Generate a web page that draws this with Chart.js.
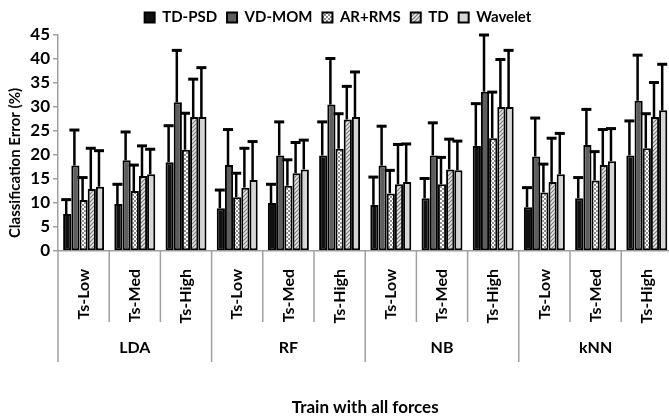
<!DOCTYPE html>
<html>
<head>
<meta charset="utf-8">
<script src="https://cdn.jsdelivr.net/npm/chart.js@4"></script>
<style>
  html, body { margin: 0; padding: 0; background: #fff; overflow: hidden; }
  #wrap { width: 676px; height: 419px; position: relative; }
</style>
</head>
<body>
<div id="wrap"><canvas id="chart"></canvas></div>
<script>
const categories = ['Ts-Low', 'Ts-Med', 'Ts-High', 'Ts-Low', 'Ts-Med', 'Ts-High',
                    'Ts-Low', 'Ts-Med', 'Ts-High', 'Ts-Low', 'Ts-Med', 'Ts-High'];
const groups = ['LDA', 'RF', 'NB', 'kNN'];
const yTicks = [0, 5, 10, 15, 20, 25, 30, 35, 40, 45];

// bar heights (%)
const tdPsd   = [7.7, 9.8, 18.5, 8.9, 10.0, 19.9, 9.6, 11.0, 21.9, 9.1, 11.0, 19.9];
const vdMom   = [17.8, 18.9, 31.0, 17.9, 19.9, 30.5, 17.8, 19.9, 33.2, 19.7, 22.1, 31.3];
const arRms   = [10.6, 12.5, 21.1, 11.2, 13.6, 21.3, 12.0, 13.9, 23.5, 12.2, 14.7, 21.4];
const td      = [12.9, 15.6, 27.9, 13.2, 16.2, 27.4, 13.9, 17.0, 30.0, 14.4, 17.9, 27.9];
const wavelet = [13.4, 16.0, 27.9, 14.8, 17.0, 27.9, 14.4, 16.8, 30.0, 16.0, 18.7, 29.3];

// top of the error whiskers (%)
const tdPsdErr   = [10.7, 13.9, 26.1, 12.7, 13.9, 26.9, 15.4, 15.1, 30.7, 13.2, 15.3, 27.1];
const vdMomErr   = [25.2, 24.8, 41.8, 25.3, 26.9, 40.1, 26.0, 26.7, 45.0, 27.7, 29.5, 40.8];
const arRmsErr   = [15.3, 17.9, 28.7, 16.2, 19.0, 28.6, 16.8, 19.5, 33.1, 18.1, 20.7, 28.6];
const tdErr      = [21.4, 21.9, 35.8, 21.4, 22.6, 34.3, 22.2, 23.3, 39.9, 23.5, 25.3, 35.1];
const waveletErr = [20.9, 21.2, 38.2, 22.8, 23.1, 37.3, 22.3, 22.9, 41.8, 24.5, 25.5, 38.9];

function makePattern(draw) {
  const c = document.createElement('canvas');
  c.width = 4; c.height = 4;
  draw(c.getContext('2d'));
  return c.getContext('2d').createPattern(c, 'repeat');
}
const checker = makePattern(g => {
  g.fillStyle = '#8a8a8a'; g.fillRect(0, 0, 4, 4);
  g.fillStyle = '#fff'; g.fillRect(0, 0, 2, 2); g.fillRect(2, 2, 2, 2);
});
const hatch = makePattern(g => {
  g.fillStyle = '#e6e6e6'; g.fillRect(0, 0, 4, 4);
  g.strokeStyle = '#7a7a7a'; g.lineWidth = 1.2;
  g.beginPath(); g.moveTo(0, 4); g.lineTo(4, 0); g.stroke();
  g.beginPath(); g.moveTo(-1, 1); g.lineTo(1, -1); g.stroke();
  g.beginPath(); g.moveTo(3, 5); g.lineTo(5, 3); g.stroke();
});

Chart.defaults.font.family = 'Lato';
Chart.defaults.font.weight = 'bold';
Chart.defaults.color = '#000';

const errorBars = {
  id: 'errorBars',
  afterDatasetsDraw(chart) {
    const ctx = chart.ctx, y = chart.scales.y;
    ctx.save();
    ctx.strokeStyle = '#000';
    chart.data.datasets.forEach((ds, i) => {
      chart.getDatasetMeta(i).data.forEach((bar, j) => {
        const top = y.getPixelForValue(ds.errTop[j]);
        const x = bar.x - 1;
        ctx.lineWidth = 2.5;
        ctx.beginPath(); ctx.moveTo(x, bar.y); ctx.lineTo(x, top); ctx.stroke();
        ctx.lineWidth = 3;
        ctx.beginPath(); ctx.moveTo(x - 5, top); ctx.lineTo(x + 5, top); ctx.stroke();
      });
    });
    ctx.restore();
  }
};

const axisDecor = {
  id: 'axisDecor',
  afterDraw(chart) {
    const ctx = chart.ctx, xs = chart.scales.x, area = chart.chartArea;
    const w = xs.width / categories.length;
    ctx.save();
    ctx.strokeStyle = '#a0a0a0';
    ctx.lineWidth = 1.5;
    for (let k = 0; k <= categories.length; k++) {
      const x = xs.left + k * w;
      ctx.beginPath();
      ctx.moveTo(x, area.bottom);
      ctx.lineTo(x, k % 3 === 0 ? area.bottom + 111 : area.bottom + 71);
      ctx.stroke();
    }
    ctx.fillStyle = '#000';
    ctx.font = 'bold 16px Lato';
    ctx.textAlign = 'center';
    ctx.textBaseline = 'middle';
    groups.forEach((g, i) => {
      ctx.fillText(g, xs.getPixelForValue(i * 3 + 1), area.bottom + 97);
    });
    // y axis title
    ctx.translate(15, 163);
    ctx.rotate(-Math.PI / 2);
    ctx.font = 'bold 15px Lato';
    ctx.fillText('Classification Error (%)', 0, 0);
    ctx.restore();
  }
};

function series(label, data, errTop, fill) {
  return {label, data, errTop, backgroundColor: fill, borderColor: '#000',
          borderWidth: 2, borderSkipped: false};
}

new Chart(document.getElementById('chart'), {
  type: 'bar',
  data: {
    labels: categories,
    datasets: [
      series('TD-PSD', tdPsd, tdPsdErr, '#111'),
      series('VD-MOM', vdMom, vdMomErr, '#5e5e5e'),
      series('AR+RMS', arRms, arRmsErr, checker),
      series('TD', td, tdErr, hatch),
      series('Wavelet', wavelet, waveletErr, '#d6d6d6')
    ]
  },
  options: {
    responsive: true,
    maintainAspectRatio: false,
    animation: false,
    layout: { padding: { top: 0, left: 0, right: 0, bottom: 0 } },
    datasets: { bar: { categoryPercentage: 0.8, barPercentage: 1.0 } },
    plugins: {
      legend: {
        position: 'top',
        labels: { boxWidth: 10, boxHeight: 10, padding: 10, font: { size: 15, weight: 'bold' } }
      },
      tooltip: { enabled: false }
    },
    scales: {
      x: {
        grid: { display: false },
        border: { color: '#a0a0a0', width: 1.5 },
        ticks: { minRotation: 90, maxRotation: 90, padding: 10, font: { size: 16, weight: 'bold' } },
        title: { display: true, text: 'Train with all forces', font: { size: 17, weight: 'bold' },
                 padding: { top: 0, bottom: 1 } },
        afterFit(s) { s.height = 168; }
      },
      y: {
        min: 0, max: 45,
        afterBuildTicks(s) { s.ticks = yTicks.map(v => ({value: v})); },
        grid: { drawOnChartArea: false, tickLength: 5, color: '#a0a0a0', lineWidth: 1.5 },
        border: { color: '#a0a0a0', width: 1.5 },
        ticks: { padding: 3, font: { size: 17, weight: 'bold' } },
        afterFit(s) { s.width = 58; }
      }
    }
  },
  plugins: [errorBars, axisDecor]
});
</script>
</body>
</html>
